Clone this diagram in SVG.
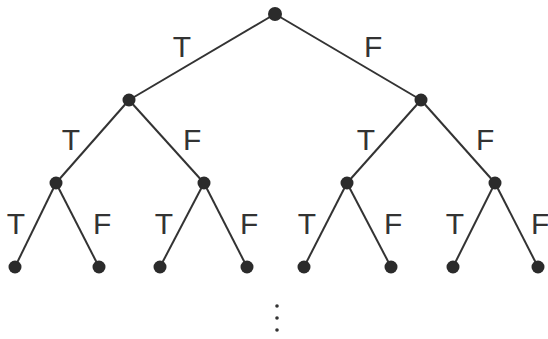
<svg xmlns="http://www.w3.org/2000/svg" width="548" height="339" viewBox="0 0 548 339">
<style>
.e{stroke:#333;stroke-width:2;fill:none}
.n{fill:#2b2b2b}
.l{font-family:"Liberation Sans",Arial,sans-serif;font-size:30px;fill:#333}
.d{fill:#333}
</style>
<rect width="548" height="339" fill="#fff"/>
<g id="connectors">
<line class="e" x1="275" y1="14" x2="129" y2="100"/>
<line class="e" x1="275" y1="14" x2="421" y2="100"/>
<line class="e" x1="129" y1="100" x2="56" y2="183"/>
<line class="e" x1="129" y1="100" x2="204" y2="183"/>
<line class="e" x1="421" y1="100" x2="347" y2="183"/>
<line class="e" x1="421" y1="100" x2="495" y2="183"/>
<line class="e" x1="56" y1="183" x2="15" y2="267"/>
<line class="e" x1="56" y1="183" x2="99" y2="267"/>
<line class="e" x1="204" y1="183" x2="160" y2="267"/>
<line class="e" x1="204" y1="183" x2="247" y2="267"/>
<line class="e" x1="347" y1="183" x2="304" y2="267"/>
<line class="e" x1="347" y1="183" x2="391" y2="267"/>
<line class="e" x1="495" y1="183" x2="453" y2="267"/>
<line class="e" x1="495" y1="183" x2="538" y2="267"/>
</g>
<g id="labels">
<text class="l" x="182" y="57" text-anchor="middle">T</text>
<text class="l" x="364" y="57">F</text>
<text class="l" x="71" y="150" text-anchor="middle">T</text>
<text class="l" x="183" y="150">F</text>
<text class="l" x="366" y="150" text-anchor="middle">T</text>
<text class="l" x="476" y="150">F</text>
<text class="l" x="16" y="234" text-anchor="middle">T</text>
<text class="l" x="93" y="234">F</text>
<text class="l" x="164" y="234" text-anchor="middle">T</text>
<text class="l" x="240" y="234">F</text>
<text class="l" x="307" y="234" text-anchor="middle">T</text>
<text class="l" x="384" y="234">F</text>
<text class="l" x="455" y="234" text-anchor="middle">T</text>
<text class="l" x="531" y="234">F</text>
</g>
<g id="root"><circle class="n" cx="275" cy="14" r="7"/></g>
<g id="n-T"><circle class="n" cx="129" cy="100" r="6.5"/></g>
<g id="n-F"><circle class="n" cx="421" cy="100" r="6.5"/></g>
<g id="n-TT"><circle class="n" cx="56" cy="183" r="6.5"/></g>
<g id="n-TF"><circle class="n" cx="204" cy="183" r="6.5"/></g>
<g id="n-FT"><circle class="n" cx="347" cy="183" r="6.5"/></g>
<g id="n-FF"><circle class="n" cx="495" cy="183" r="6.5"/></g>
<g id="n-TTT"><circle class="n" cx="15" cy="267" r="6.5"/></g>
<g id="n-TTF"><circle class="n" cx="99" cy="267" r="6.5"/></g>
<g id="n-TFT"><circle class="n" cx="160" cy="267" r="6.5"/></g>
<g id="n-TFF"><circle class="n" cx="247" cy="267" r="6.5"/></g>
<g id="n-FTT"><circle class="n" cx="304" cy="267" r="6.5"/></g>
<g id="n-FTF"><circle class="n" cx="391" cy="267" r="6.5"/></g>
<g id="n-FFT"><circle class="n" cx="453" cy="267" r="6.5"/></g>
<g id="n-FFF"><circle class="n" cx="538" cy="267" r="6.5"/></g>
<g id="ellipsis">
<circle class="d" cx="277" cy="306" r="1.8"/>
<circle class="d" cx="277" cy="318" r="1.8"/>
<circle class="d" cx="277" cy="330" r="1.8"/>
</g>
</svg>
